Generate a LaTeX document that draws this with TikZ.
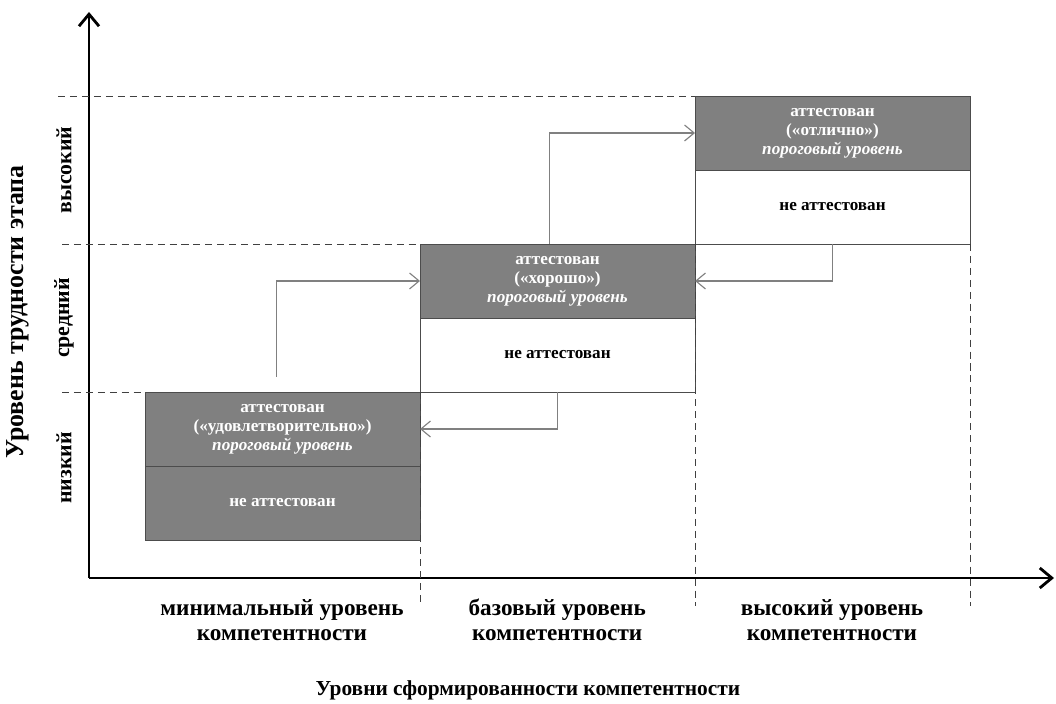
\documentclass[tikz,border=0pt]{standalone}
\usepackage{fontspec}
\setmainfont{Liberation Serif}
\usetikzlibrary{arrows.meta,positioning,calc}

\begin{document}
\begin{tikzpicture}[
        att/.style={draw=black!70, fill=black!50, text=white, minimum width=6.875cm, minimum height=1.85cm, inner sep=0pt, outer sep=0pt, align=center, font=\bfseries\fontsize{12.2}{13.5}\selectfont},
        neatt/.style={att, fill=white, text=black},
        jump/.style={draw=black!50, line width=0.8pt, -{Straight Barb[length=2.4mm, width=4mm]}},
        axis/.style={line width=2pt, -{Straight Barb[length=3mm, width=5mm]}},
        guide/.style={draw=black!75, line width=0.6pt, dash pattern=on 5pt off 3.5pt},
        lvl/.style={font=\bfseries\fontsize{15.5}{18}\selectfont},
        comp/.style={align=center, font=\bfseries\fontsize{16.5}{17.8}\selectfont},
        ttl/.style={font=\bfseries\fontsize{18.4}{22}\selectfont}
    ]
        \useasboundingbox (0,0) rectangle (26.4,17.6);

        % Axes
        \coordinate (o) at (2.225,3.15);
        \draw[axis] (o) -- (2.225,17.3);
        \draw[axis] (o) -- (26.35,3.15);

        % Row 1: low difficulty
        \node[att, anchor=north west] (att1) at (3.625,7.8) {аттестован\\(«удовлетворительно»)\\\textit{пороговый уровень}};
        \node[att, below=0pt of att1] (ne1) {не аттестован};

        % Row 2: medium difficulty
        \node[att, anchor=north west] (att2) at (10.5,11.5) {аттестован\\(«хорошо»)\\\textit{пороговый уровень}};
        \node[neatt, below=0pt of att2] (ne2) {не аттестован};

        % Row 3: high difficulty
        \node[att, anchor=north west] (att3) at (17.375,15.2) {аттестован\\(«отлично»)\\\textit{пороговый уровень}};
        \node[neatt, below=0pt of att3] (ne3) {не аттестован};

        % Dashed guides
        \draw[guide] (1.45,15.2) -- (att3.north west);
        \draw[guide] (1.55,11.5) -- (att2.north west);
        \draw[guide] (1.55,7.8) -- (att1.north west);
        \draw[guide] (ne2.south west) -- (ne2.south west |- 0,2.45);
        \draw[guide] (ne3.south west) -- (ne3.south west |- 0,2.45);
        \draw[guide] (ne3.south east) -- (ne3.south east |- 0,2.45);

        % Transitions
        \coordinate (s1) at ($(att1.north)+(-0.14,0.38)$);
        \draw[jump] (s1) |- (att2.west);
        \draw[jump] (ne2.south) |- (att1.east);
        \draw[jump] ($(att2.north)+(-0.2,0)$) |- (att3.west);
        \draw[jump] (ne3.south) |- (att2.east);

        % Difficulty labels
        \node[lvl, rotate=90] (hi) at (1.6,13.35) {высокий};
        \node[lvl, rotate=90] (mid) at (1.6,9.65) {средний};
        \node[lvl, rotate=90] (lo) at (1.6,5.9) {низкий};
        \node[ttl, rotate=90] (ytitle) at (0.45,9.8) {Уровень трудности этапа};

        % Competence labels
        \node[comp] (c1) at (7.05,2.1) {минимальный уровень\\компетентности};
        \node[comp] (c2) at (13.93,2.1) {базовый уровень\\компетентности};
        \node[comp] (c3) at (20.8,2.1) {высокий уровень\\компетентности};
        \node[ttl, font=\bfseries\fontsize{15.2}{17}\selectfont] (xtitle) at (13.2,0.35) {Уровни сформированности компетентности};
    \end{tikzpicture}
\end{document}
